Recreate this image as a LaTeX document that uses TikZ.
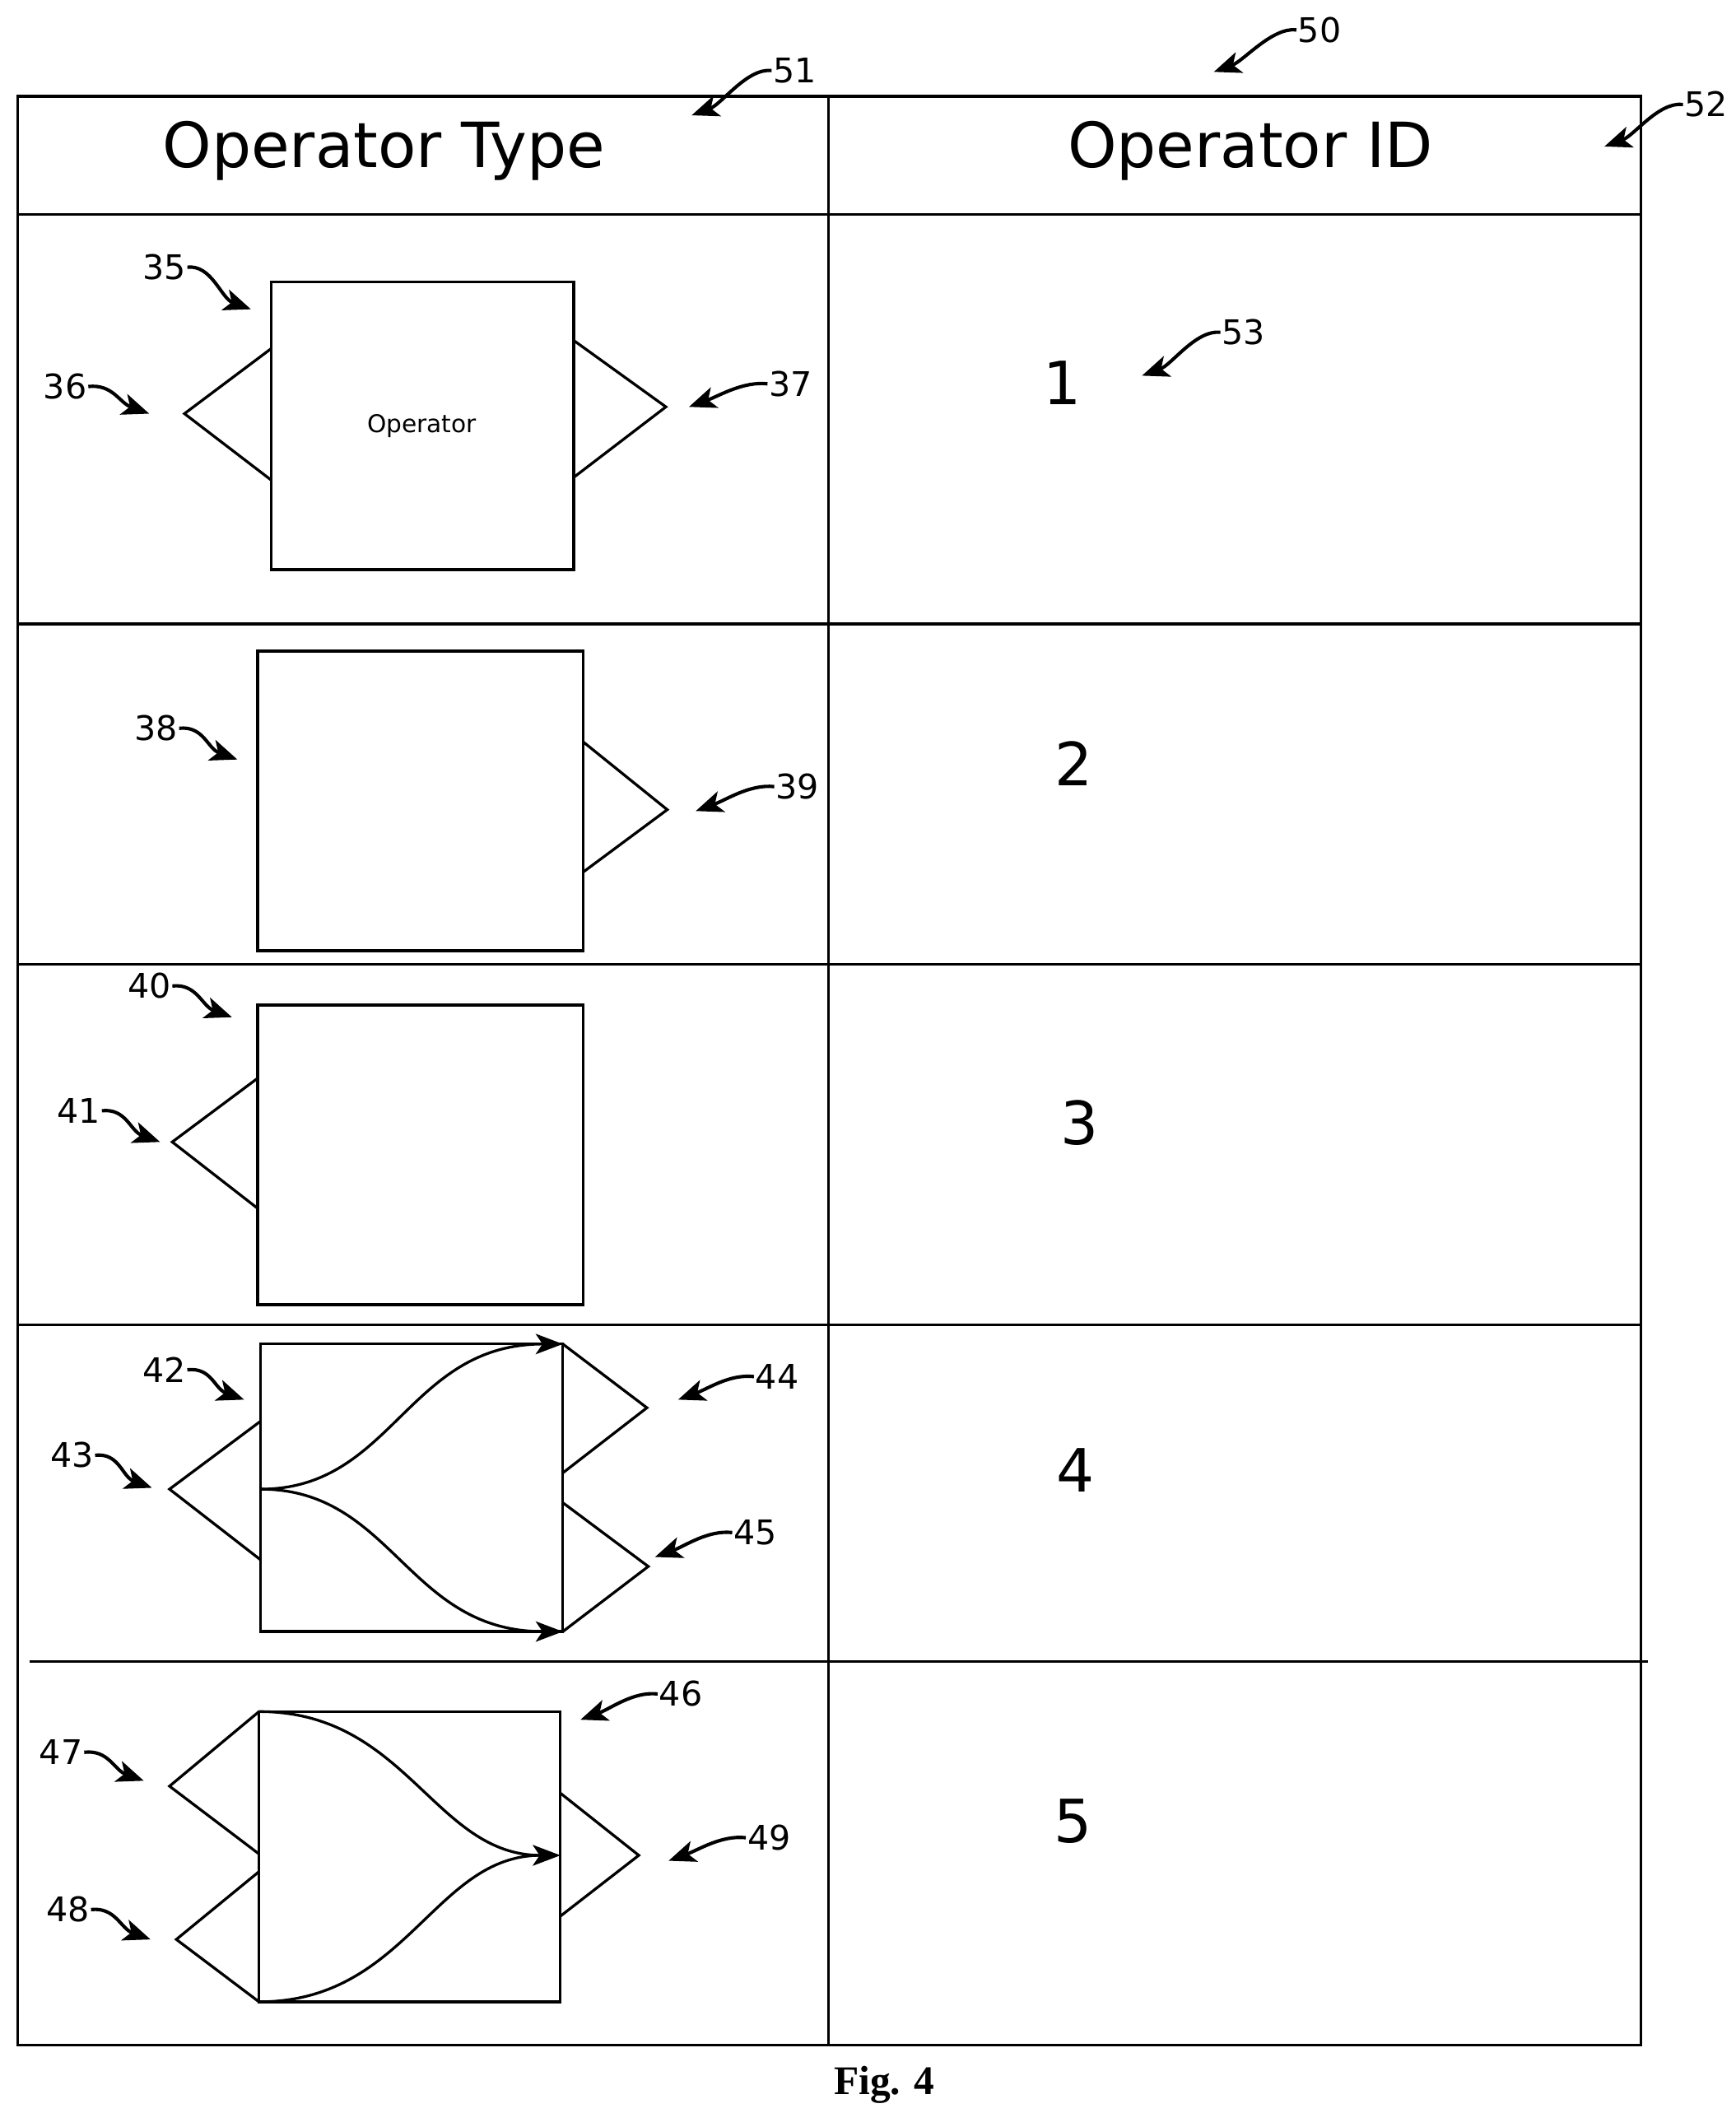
\documentclass[tikz,border=0pt]{standalone}
\usepackage{fontspec}
\setmainfont{DejaVu Sans}
\newfontfamily\figfont{Liberation Serif}
\usetikzlibrary{arrows.meta}
\tikzset{
  ln/.style={line width=2pt},
  lbl/.style={font=\fontsize{25}{28}\selectfont, inner sep=1pt},
  hdr/.style={font=\fontsize{46}{50}\selectfont},
  num/.style={font=\fontsize{44}{48}\selectfont},
  lead/.style={line width=2.5pt,-{Stealth[length=20pt,width=16pt,inset=5pt]}},
  flow/.style={line width=2pt,-{Stealth[length=20pt,width=15pt,inset=5pt]}}
}
\begin{document}
\begin{tikzpicture}[x=1pt,y=-1pt]
\useasboundingbox (0,0) rectangle (1280,1558);
% table
\draw[ln] (13,71) rectangle (1210,1508);
\draw[ln] (611,71) -- (611,1508);
\draw[ln] (13,158) -- (1210,158);
\draw[ln] (13,460) -- (1210,460);
\draw[ln] (13,711) -- (1210,711);
\draw[ln] (13,977) -- (1210,977);
\draw[ln] (22,1225) -- (1215,1225);
\node[hdr] (h1) at (283,111) {Operator Type};
\node[hdr] (h2) at (922,111) {Operator ID};
\node[num] (n1) at (783,282) {1};
\node[num] (n2) at (792,563) {2};
\node[num] (n3) at (796,828) {3};
\node[num] (n4) at (793,1084) {4};
\node[num] (n5) at (791,1343) {5};
% row1
\draw[ln] (200,208) rectangle (423,420);
\draw[ln] (200,257) -- (136,305) -- (200,354);
\draw[ln] (423,251) -- (491,300) -- (423,352);
\node[font=\fontsize{18}{20}\selectfont] (op) at (311,314) {Operator};
% row2
\draw[ln] (190,480) rectangle (430,701);
\draw[ln] (430,547) -- (492,597) -- (430,643);
% row3
\draw[ln] (190,741) rectangle (430,962);
\draw[ln] (190,795) -- (127,842) -- (190,891);
% row4
\draw[ln] (192,991) rectangle (415,1203);
\draw[ln] (192,1048) -- (125,1098) -- (192,1150);
\draw[ln] (415,991) -- (477,1038) -- (415,1086);
\draw[ln] (415,1108) -- (478,1155) -- (415,1203);
\coordinate (s4) at (192,1098);
\coordinate (e4a) at (415,991);
\coordinate (e4b) at (415,1203);
\draw[flow] (s4) .. controls (290,1098) and (300,991) .. (e4a);
\draw[flow] (s4) .. controls (290,1098) and (300,1203) .. (e4b);
% row5
\draw[ln] (191,1262) rectangle (413,1476);
\draw[ln] (191,1262) -- (125,1317) -- (191,1367);
\draw[ln] (191,1380) -- (130,1430) -- (191,1476);
\draw[ln] (413,1322) -- (471,1368) -- (413,1413);
\coordinate (s5a) at (191,1262);
\coordinate (s5b) at (191,1476);
\coordinate (e5) at (413,1368);
\draw[flow] (s5a) .. controls (300,1262) and (320,1368) .. (e5);
\draw[flow] (s5b) .. controls (300,1476) and (320,1368) .. (e5);
% fig caption
\node[font=\figfont\bfseries\fontsize{30}{32}\selectfont] (fig) at (652,1537) {Fig. 4};
% labels left side (arrow to lower right)
\foreach \n/\lx/\ly/\tx/\ty in {35/121/197/185/228, 36/48/285/110/305, 38/115/537/175/560,
  40/110/727/171/750, 41/58/819/118/842, 42/121/1010/180/1032, 43/53/1073/112/1097,
  47/45/1292/106/1313, 48/50/1408/111/1430}{
  \node[lbl] (l\n) at (\lx,\ly) {\n};
  \coordinate (t\n) at (\tx,\ty);
  \draw[lead] (l\n.east) .. controls +(18,-2) and +(-22,-8) .. (t\n);
}
% labels right side (arrow to lower left)
\foreach \n/\lx/\ly/\tx/\ty in {50/973/22/895/53, 51/586/52/510/85, 52/1258/77/1183/108,
  53/917/245/842/277, 37/583/283/508/300, 39/588/580/513/598, 44/573/1015/500/1032,
  45/557/1130/483/1148, 46/502/1249/428/1268, 49/567/1355/493/1372}{
  \node[lbl] (l\n) at (\lx,\ly) {\n};
  \coordinate (t\n) at (\tx,\ty);
  \draw[lead] (l\n.west) .. controls +(-18,-2) and +(22,-8) .. (t\n);
}
\end{tikzpicture}
\end{document}
